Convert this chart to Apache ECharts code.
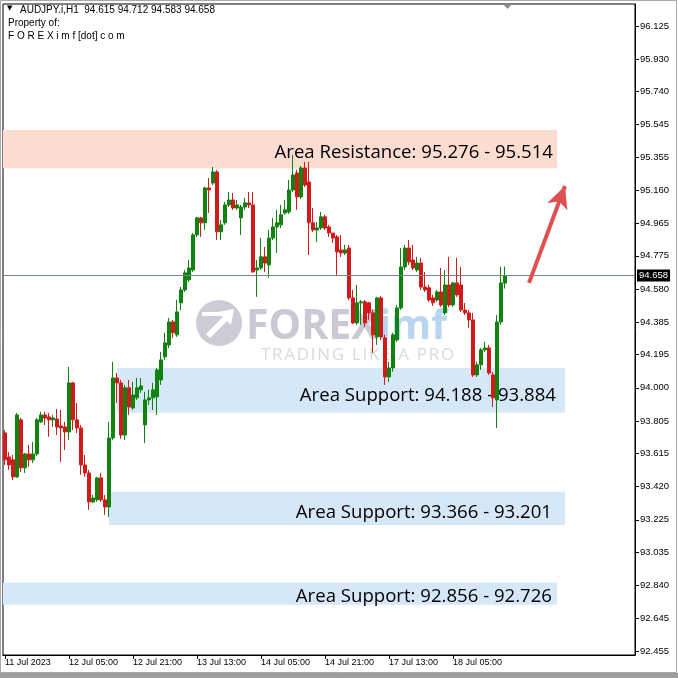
<!DOCTYPE html>
<html><head><meta charset="utf-8">
<script src="https://cdn.jsdelivr.net/npm/echarts@6/dist/echarts.min.js"></script>
<style>html,body{margin:0;padding:0;background:#fff}#c{width:678px;height:678px}</style>
</head><body><div id="c"></div>
<script>
// ---- data (AUDJPY.i H1) ----
const headerLine = 'AUDJPY.i,H1  94.615 94.712 94.583 94.658';
const opens = [93.735,93.594,93.577,93.477,93.812,93.530,93.612,93.577,93.612,93.800,
93.841,93.829,93.812,93.817,93.776,93.770,93.741,94.029,93.812,93.764,
93.547,93.500,93.330,93.342,93.471,93.342,93.300,93.706,94.058,94.029,
93.723,94.000,93.882,93.941,93.988,93.782,93.929,93.941,93.947,94.046,
94.182,94.252,94.387,94.311,94.499,94.575,94.634,94.692,94.898,94.998,
94.969,95.174,95.203,95.268,94.916,94.969,95.074,95.103,95.056,94.998,
95.062,95.086,95.074,94.692,94.704,94.769,94.722,94.880,94.945,94.957,
95.027,95.033,95.162,95.262,95.121,95.291,95.209,94.969,94.927,94.939,
95.004,94.945,94.909,94.886,94.810,94.792,94.821,94.528,94.381,94.499,
94.505,94.499,94.440,94.299,94.528,94.293,94.064,94.117,94.281,94.469,
94.710,94.821,94.751,94.692,94.733,94.592,94.587,94.528,94.516,94.563,
94.440,94.604,94.487,94.616,94.604,94.457,94.440,94.399,94.076,94.135,
94.223,94.234,94.076,93.929,94.387,94.615];
const closes = [93.577,93.547,93.477,93.841,93.530,93.612,93.577,93.612,93.812,93.841,
93.823,93.812,93.823,93.770,93.764,93.741,94.029,93.812,93.764,93.547,
93.500,93.330,93.353,93.471,93.342,93.300,93.706,94.058,94.029,93.723,
94.000,93.888,93.958,94.000,94.011,93.929,93.941,93.988,94.105,94.164,
94.264,94.387,94.323,94.446,94.575,94.675,94.704,94.898,94.998,94.969,
95.174,95.162,95.268,94.916,94.957,95.074,95.103,95.056,95.074,95.062,
95.086,95.074,94.681,94.704,94.769,94.733,94.880,94.945,94.969,95.016,
95.045,95.162,95.250,95.121,95.291,95.191,94.969,94.927,94.939,95.004,
94.939,94.909,94.880,94.798,94.792,94.810,94.528,94.381,94.499,94.505,
94.381,94.440,94.311,94.528,94.299,94.064,94.117,94.311,94.469,94.710,
94.821,94.739,94.704,94.733,94.592,94.575,94.516,94.499,94.563,94.487,
94.604,94.487,94.616,94.546,94.457,94.440,94.399,94.076,94.135,94.223,
94.234,94.087,93.941,94.387,94.616,94.658];
const lows = [93.547,93.518,93.459,93.471,93.506,93.500,93.536,93.559,93.600,93.794,
93.782,93.712,93.770,93.723,93.565,93.635,93.694,93.753,93.735,93.489,
93.477,93.283,93.324,93.330,93.330,93.254,93.242,93.694,93.911,93.700,
93.694,93.841,93.870,93.929,93.970,93.676,93.900,93.870,93.841,94.017,
94.164,94.234,94.293,94.299,94.457,94.563,94.622,94.681,94.886,94.886,
94.927,95.027,95.191,94.868,94.868,94.957,95.062,95.045,95.045,94.898,
95.045,95.056,94.675,94.534,94.692,94.681,94.646,94.868,94.792,94.939,
95.016,95.021,95.150,95.045,95.109,95.180,94.780,94.916,94.857,94.927,
94.927,94.886,94.851,94.663,94.769,94.780,94.516,94.376,94.370,94.370,
94.358,94.399,94.205,94.252,94.281,94.017,94.035,94.094,94.270,94.457,
94.692,94.722,94.692,94.681,94.575,94.563,94.505,94.481,94.505,94.475,
94.428,94.475,94.475,94.534,94.446,94.428,94.352,94.064,94.064,94.105,
94.211,94.076,93.888,93.764,94.370,94.583];
const highs = [93.753,93.624,93.606,93.853,93.823,93.618,93.665,93.682,93.823,93.859,
93.859,93.853,93.841,93.876,93.870,93.800,94.123,94.035,93.911,93.782,
93.606,93.518,93.371,93.477,93.500,93.371,93.800,94.152,94.087,94.046,
94.017,94.046,94.035,94.058,94.058,93.976,93.988,94.029,94.117,94.211,
94.323,94.411,94.399,94.516,94.592,94.692,94.751,94.909,95.004,95.004,
95.180,95.232,95.297,95.280,94.986,95.092,95.150,95.144,95.103,95.074,
95.115,95.150,95.150,94.751,94.880,94.827,94.927,94.998,95.045,95.074,
95.103,95.221,95.368,95.280,95.303,95.327,95.327,95.056,94.974,95.033,
95.016,94.957,94.909,94.898,94.898,94.839,94.839,94.575,94.604,94.516,
94.516,94.505,94.457,94.534,94.540,94.311,94.152,94.323,94.487,94.821,
94.839,94.868,94.839,94.769,94.763,94.681,94.604,94.546,94.575,94.704,
94.692,94.769,94.622,94.763,94.710,94.499,94.457,94.440,94.152,94.234,
94.270,94.252,94.094,94.428,94.710,94.712];
const yTicks = [96.125,95.930,95.740,95.545,95.355,95.160,94.965,94.775,94.580,94.385,
94.195,94.000,93.805,93.615,93.420,93.225,93.035,92.840,92.645,92.455];
const lastPrice = 94.658;
const zoneLabels = ['Area Resistance: 95.276 - 95.514','Area Support: 94.188 - 93.884',
  'Area Support: 93.366 - 93.201','Area Support: 92.856 - 92.726'];
const zoneTops = [95.514, 94.117, 93.389, 92.856];
const zoneBottoms = [95.290, 93.853, 93.195, 92.726];
const zoneStarts = [null, 28, 26, null];
const zoneEnds = [138, 140, 140, 138];
const arrowFrom = [131, 94.616];
const arrowTo = [140, 95.185];

// ---- categories (hourly bars, weekend skipped) ----
const MONTHS = ['Jan','Feb','Mar','Apr','May','Jun','Jul','Aug','Sep','Oct','Nov','Dec'];
const firstBar = Date.UTC(2023, 6, 11, 13);
const totalSlots = 158;
const categories = [];
let t = firstBar;
for (let i = 0; i < totalSlots; i++) {
  const d = new Date(t);
  categories.push(d.getUTCDate() + ' ' + MONTHS[d.getUTCMonth()] + ' ' + String(d.getUTCHours()).padStart(2,'0') + ':00');
  t += 3600000;
  if (new Date(t).getUTCDay() === 6) t += 48 * 3600000;
}
const firstLabel = (() => { const d = new Date(firstBar); return d.getUTCDate() + ' ' + MONTHS[d.getUTCMonth()] + ' ' + d.getUTCFullYear(); })();
const candles = opens.map((o, i) => [o, closes[i], lows[i], highs[i]]);
const showTick = (idx) => idx % 16 === 0 && idx < opens.length;

const zoneColors = ['#fbdcd0', '#d6e7f8', '#d6e7f8', '#d6e7f8'];
const zoneDist = [4, 9, 13, 5];
const zoneOff = [4, 5, 4, 3];
const zoneData = zoneLabels.map((lab, i) => {
  const a = { name: lab, yAxis: zoneTops[i], itemStyle: { color: zoneColors[i], opacity: 1 },
    label: { show: true, position: 'insideRight', formatter: lab, color: '#000', fontSize: 18.6,
      fontFamily: 'Open Sans', distance: zoneDist[i], offset: [0, zoneOff[i]] } };
  if (zoneStarts[i] !== null) a.xAxis = zoneStarts[i];
  const b = { yAxis: zoneBottoms[i], xAxis: zoneEnds[i] };
  return [a, b];
});

const axisFont = 'Liberation Sans';
const hs = '\u200A';
const chart = echarts.init(document.getElementById('c'), null, { renderer: 'canvas' });
chart.setOption({
  animation: false,
  backgroundColor: '#fff',
  grid: { left: 3, right: 43, top: 4, bottom: 23, show: true, borderColor: '#000', borderWidth: 1, backgroundColor: '#fff' },
  xAxis: {
    type: 'category', data: categories, boundaryGap: true,
    axisLine: { show: true, lineStyle: { color: '#000', width: 1 } },
    axisTick: { show: true, alignWithLabel: true, length: 4, interval: showTick, lineStyle: { color: '#000' } },
    axisLabel: { interval: showTick, align: 'left', margin: 3, color: '#000', fontSize: 9, fontFamily: axisFont,
      formatter: (v, idx) => idx === 0 ? firstLabel : v },
    splitLine: { show: false }
  },
  yAxis: {
    type: 'value', position: 'right', min: 92.431, max: 96.254, scale: true,
    axisLine: { show: true, lineStyle: { color: '#000', width: 1 } },
    axisTick: { show: true, length: 4, customValues: yTicks, lineStyle: { color: '#000' } },
    axisLabel: { customValues: yTicks, margin: 5, color: '#000', fontSize: 9.5, fontFamily: axisFont,
      formatter: v => v.toFixed(3) },
    splitLine: { show: false }
  },
  series: [
    { type: 'line', data: [], z: 1, silent: true,
      markArea: { silent: true, data: zoneData } },
    { type: 'candlestick', data: candles, z: 3, barWidth: 3,
      itemStyle: { color: '#0f820f', color0: '#d21a1a', borderColor: '#0f820f', borderColor0: '#d21a1a', borderWidth: 1 },
      markLine: { silent: true, symbol: ['none', 'none'], animation: false,
        lineStyle: { color: '#73838f', type: 'solid', width: 1 },
        data: [{ yAxis: lastPrice }],
        label: { show: true, position: 'end', distance: 2, formatter: () => lastPrice.toFixed(3),
          backgroundColor: '#000', color: '#fff', padding: [1, 2, 1, 2], fontSize: 9.5, fontFamily: axisFont } } },
    { type: 'line', data: [], z: 6, silent: true,
      markLine: { silent: true, symbol: ['none', 'arrow'], symbolSize: [16, 22], animation: false,
        lineStyle: { color: '#e05050', type: 'solid', width: 4 }, label: { show: false },
        data: [[{ coord: arrowFrom }, { coord: arrowTo }]] } }
  ],
  graphic: [
    // watermark
    { type: 'group', z: 2, silent: true, children: [
      { type: 'circle', shape: { cx: 219, cy: 323, r: 23 }, style: { fill: '#cbccd5' } },
      { type: 'line', shape: { x1: 208, y1: 336, x2: 227, y2: 317 }, style: { stroke: '#fff', lineWidth: 6 } },
      { type: 'line', shape: { x1: 202, y1: 314, x2: 229, y2: 314 }, style: { stroke: '#fff', lineWidth: 4 } },
      { type: 'polygon', shape: { points: [[234, 309], [218, 312], [231, 325]] }, style: { fill: '#fff' } },
      { type: 'text', left: 246, top: 307, style: { text: '{a|FOREX}{b|imf}', rich: {
          a: { fontSize: 41, fontWeight: 'bold', fontFamily: 'Open Sans', fill: '#c9cad3' },
          b: { fontSize: 41, fontWeight: 'bold', fontFamily: 'Open Sans', fill: '#b9d5ef' } } } },
      { type: 'text', left: 261, top: 347, style: { text: 'TRADING LIKE A PRO'.split('').join(hs), fontSize: 17, fontFamily: 'Open Sans', fill: '#d9dae0' } }
    ] },
    // header
    { type: 'text', left: 7, top: 5, z: 10, style: { text: '▼', fontSize: 7, fontFamily: 'DejaVu Sans', fill: '#000' } },
    { type: 'text', left: 20, top: 5, z: 10, style: { text: headerLine, fontSize: 10, fontFamily: axisFont, fill: '#000' } },
    { type: 'text', left: 8, top: 18, z: 10, style: { text: 'Property of:', fontSize: 10, fontFamily: axisFont, fill: '#000' } },
    { type: 'text', left: 8, top: 31, z: 10, style: { text: 'F O R E X i m f [dot] c o m', fontSize: 10, fontFamily: axisFont, fill: '#000' } },
    // chart shift marker
    { type: 'polygon', z: 10, shape: { points: [[503, 4], [512, 4], [507.5, 9]] }, style: { fill: '#8a8a8a' } },
    // window frame
    { type: 'rect', z: 0, shape: { x: 0.5, y: 0.5, width: 676, height: 672 }, style: { fill: null, stroke: '#a8a8a8', lineWidth: 1 } },
    { type: 'rect', z: 0, shape: { x: 0, y: 673, width: 678, height: 5 }, style: { fill: '#9c9c9c' } }
  ]
});
</script></body></html>
